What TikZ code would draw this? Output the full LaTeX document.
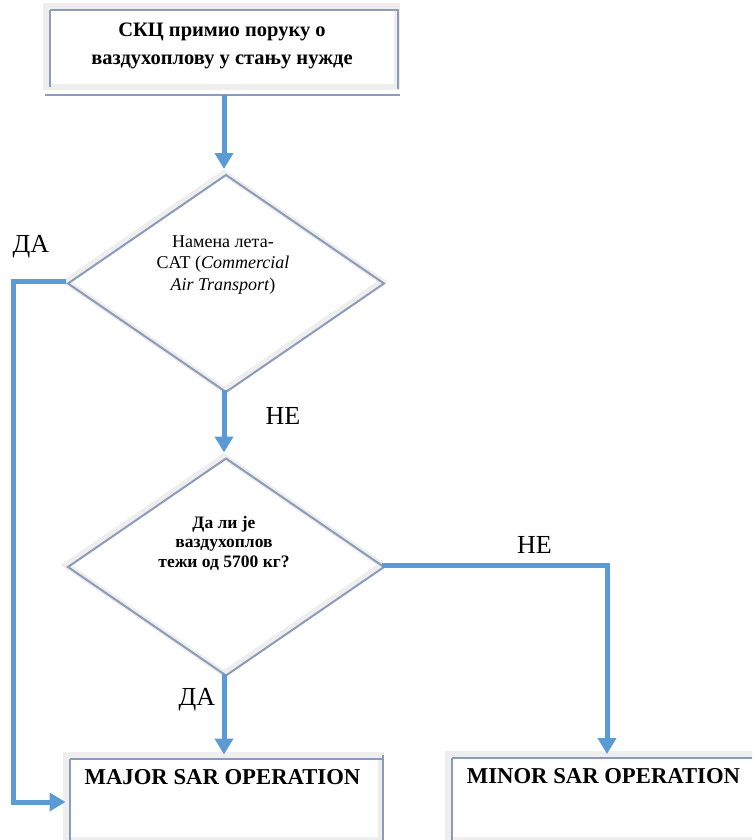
\documentclass[tikz,border=0pt]{standalone}
\usepackage{fontspec}
\setmainfont{Liberation Serif}
\usetikzlibrary{arrows.meta,shapes.geometric}
\definecolor{flow}{HTML}{5B9BD5}
\definecolor{bevel}{HTML}{8C9CB8}
\definecolor{band}{HTML}{EEEEEE}

\begin{document}
\begin{tikzpicture}[x=1pt,y=-1pt,
  panel/.style={rectangle, draw=band, line width=6pt, fill=white, inner sep=0pt, outer sep=0pt},
  rhomb/.style={diamond, draw=band, line width=6pt, fill=white, inner sep=0pt, outer sep=0pt,
    minimum width=316pt, minimum height=217pt, aspect=1.456},
  bevelline/.style={draw=bevel, line width=2pt},
  flowarrow/.style={draw=flow, line width=5pt, -{Triangle[width=18pt,length=16pt]}},
  lbl/.style={font=\fontsize{26}{28}\selectfont, inner sep=0pt, anchor=base},
  txt/.style={inner sep=0pt, anchor=base, align=center},
]
\useasboundingbox (0,0) rectangle (752,840);
\clip (0,0) rectangle (752,840);

% boxes (band drawn by the node, bevel lines on top)
\node[panel, minimum width=351pt, minimum height=81pt] (start) at (221.5,46.5) {};
\draw[bevelline] ([shift={(4,4)}]start.north west) -- ([shift={(2,4)}]start.north east);
\draw[bevelline] ([shift={(4,4)}]start.north west) -- ([shift={(4,0)}]start.south west);
\draw[bevelline] ([shift={(-1,8)}]start.south west) -- ([shift={(3,8)}]start.south east);
\draw[bevelline] ([shift={(1,4)}]start.north east) -- ([shift={(1,2)}]start.south east);

\node[panel, minimum width=315.5pt, minimum height=85.5pt] (major) at (223.25,797.25) {};
\draw[bevelline] ([shift={(4.5,4.5)}]major.north west) -- ([shift={(2,4.5)}]major.north east);
\draw[bevelline] ([shift={(4.5,4.5)}]major.north west) -- ([shift={(4.5,0)}]major.south west);
\draw[bevelline] ([shift={(2,0)}]major.north east) -- ([shift={(2,0)}]major.south east);

\node[panel, minimum width=312.5pt, minimum height=86pt] (minor) at (603.75,797) {};
\draw[bevelline] ([shift={(4.5,3.5)}]minor.north west) -- ([shift={(0,3.5)}]minor.north east);
\draw[bevelline] ([shift={(4.5,3.5)}]minor.north west) -- ([shift={(4.5,0)}]minor.south west);

% decisions
\node[rhomb] (d1) at (224,281.5) {};
\draw[bevelline] ([shift={(2,2)}]d1.north) -- ([shift={(2,2)}]d1.east) -- ([shift={(2,2)}]d1.south)
  -- ([shift={(2,2)}]d1.west) -- cycle;
\node[rhomb] (d2) at (224,565) {};
\draw[bevelline] ([shift={(2,2)}]d2.north) -- ([shift={(2,2)}]d2.east) -- ([shift={(2,2)}]d2.south)
  -- ([shift={(2,2)}]d2.west) -- cycle;

% texts (anchored at the baseline of the last line)
\node[txt, font=\bfseries\fontsize{20.5}{28}\selectfont] (start-text) at (222,65)
  {СКЦ примио поруку о\\ваздухоплову у стању нужде};
\node[txt, font=\fontsize{18}{21.5}\selectfont] (d1-text) at (223,290)
  {Намена лета-\\CAT (\textit{Commercial}\\\textit{Air Transport})};
\node[txt, font=\bfseries\fontsize{17.5}{19.5}\selectfont] (d2-text) at (224,567)
  {Да ли је\\ваздухоплов\\тежи од 5700 кг?};
\node[txt, font=\bfseries\fontsize{22.7}{26}\selectfont] (major-text) at (222.5,784) {MAJOR SAR OPERATION};
\node[txt, font=\bfseries\fontsize{22.7}{26}\selectfont] (minor-text) at (603.5,783) {MINOR SAR OPERATION};

% connector helpers
\coordinate (rail) at (13,0);
\coordinate (mj) at (0,802);
\coordinate (drop) at (607,0);

% connectors
\draw[flowarrow] (d1.north |- 0,95) -- ([yshift=4pt]d1.north);
\draw[flowarrow] (d1.south) -- ([yshift=4pt]d2.north);
\draw[flowarrow] (d1.west) -- (d1.west -| rail) |- (major.west |- mj);
\draw[flowarrow] (d2.south) -- (d2.south |- major.north);
\draw[flowarrow] (d2.east) -| (minor.north -| drop);

% branch labels
\node[lbl] (yes1) at (31,252) {ДА};
\node[lbl] (no1) at (283,424) {НЕ};
\node[lbl] (no2) at (534.5,553) {НЕ};
\node[lbl] (yes2) at (197,705) {ДА};
\end{tikzpicture}
\end{document}
